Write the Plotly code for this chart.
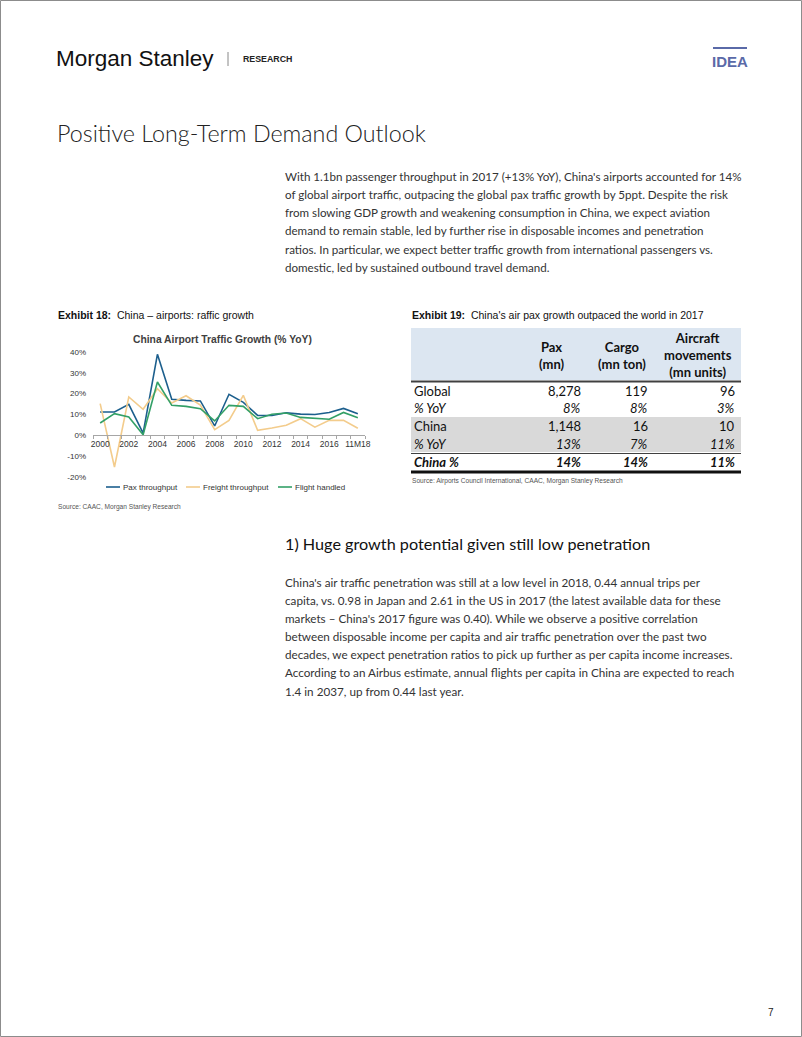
import plotly.graph_objects as go

W, H = 802, 1037
def X(px): return px / W
def Y(py): return 1 - py / H

# ---------------- chart data ----------------
years = ["2000", "2001", "2002", "2003", "2004", "2005", "2006", "2007", "2008", "2009",
         "2010", "2011", "2012", "2013", "2014", "2015", "2016", "2017", "11M18"]
pax = [11.2, 11.2, 14.9, 1.1, 38.9, 17.3, 16.8, 16.5, 4.5, 19.7,
       15.8, 9.6, 9.5, 10.8, 10.2, 10.0, 11.0, 12.9, 10.4]
freight = [15.2, -15.2, 18.4, 12.5, 22.4, 15.5, 19.0, 14.5, 2.7, 7.2,
           19.2, 2.4, 3.5, 4.8, 8.0, 3.9, 7.2, 7.2, 3.4]
flight = [5.9, 10.4, 8.8, 0.3, 25.6, 14.4, 13.9, 12.8, 6.9, 14.4,
          13.9, 8.0, 10.1, 10.7, 8.6, 8.0, 7.7, 11.0, 8.5]
series_names = ["Pax throughput", "Freight throughput", "Flight handled"]
series_colors = ["#1C5F8D", "#F3CC8C", "#33A067"]
x_ticktext = [y if i % 2 == 0 else "" for i, y in enumerate(years)]
y_ticks = [-20, -10, 0, 10, 20, 30, 40]

# ---------------- table data ----------------
col_headers = ["Pax<br>(mn)", "Cargo<br>(mn ton)", "Aircraft<br>movements<br>(mn units)"]
row_labels = ["Global", "% YoY", "China", "% YoY", "China %"]
pax_col = ["8,278", "8%", "1,148", "13%", "14%"]
cargo_col = ["119", "8%", "16", "7%", "14%"]
aircraft_col = ["96", "3%", "10", "11%", "11%"]
row_styles = ["normal", "italic", "normal", "italic", "bolditalic"]

para1 = [
    "With 1.1bn passenger throughput in 2017 (+13% YoY), China's airports accounted for 14%",
    "of global airport traffic, outpacing the global pax traffic growth by 5ppt. Despite the risk",
    "from slowing GDP growth and weakening consumption in China, we expect aviation",
    "demand to remain stable, led by further rise in disposable incomes and penetration",
    "ratios. In particular, we expect better traffic growth from international passengers vs.",
    "domestic, led by sustained outbound travel demand.",
]
para2 = [
    "China's air traffic penetration was still at a low level in 2018, 0.44 annual trips per",
    "capita, vs. 0.98 in Japan and 2.61 in the US in 2017 (the latest available data for these",
    "markets – China's 2017 figure was 0.40). While we observe a positive correlation",
    "between disposable income per capita and air traffic penetration over the past two",
    "decades, we expect penetration ratios to pick up further as per capita income increases.",
    "According to an Airbus estimate, annual flights per capita in China are expected to reach",
    "1.4 in 2037, up from 0.44 last year.",
]

ARIAL = "Liberation Sans, Arial, sans-serif"
BODY = "Lato, Noto Sans, sans-serif"

fig = go.Figure()
for name, vals, col in zip(series_names, [pax, freight, flight], series_colors):
    fig.add_trace(go.Scatter(x=years, y=vals, mode="lines", name=name,
                             line=dict(color=col, width=1.6), showlegend=False,
                             hoverinfo="skip"))

y_min, y_max = -20, 40
dom_y = [Y(477), Y(352)]
x_axis_pos = dom_y[0] + (0 - y_min) / (y_max - y_min) * (dom_y[1] - dom_y[0])

fig.update_layout(
    width=W, height=H, margin=dict(l=0, r=0, t=0, b=0, pad=0), autosize=False,
    paper_bgcolor="white", plot_bgcolor="white", showlegend=False,
    xaxis=dict(domain=[X(93), X(365)], type="category", range=[-0.5, len(years) - 0.5],
               anchor="free", position=x_axis_pos, showline=True, linecolor="#A6A6A6",
               linewidth=1, ticks="outside", ticklen=3, tickcolor="#A6A6A6",
               tickson="boundaries", tickvals=years, ticktext=x_ticktext, tickangle=0,
               showgrid=False, automargin=False,
               tickfont=dict(family=ARIAL, size=8.5, color="#333333")),
    yaxis=dict(domain=dom_y, range=[y_min, y_max], tickvals=y_ticks,
               ticktext=[f"{v}%" for v in y_ticks], showgrid=False, zeroline=False,
               showline=False, ticks="", ticklabelstandoff=6, automargin=False,
               tickfont=dict(family=ARIAL, size=8, color="#333333")),
)

shapes = []
ann = []

def text(x, y, s, size, family=BODY, color="#333333", xanchor="left", yanchor="middle",
         bold=False, italic=False, align="left", weight=None):
    w = weight if weight is not None else ("bold" if bold else "normal")
    ann.append(dict(x=X(x), y=Y(y), xref="paper", yref="paper", text=s, showarrow=False,
                    xanchor=xanchor, yanchor=yanchor, align=align,
                    font=dict(family=family, size=size, color=color, weight=w,
                              style="italic" if italic else "normal")))

# page border
shapes.append(dict(type="rect", xref="paper", yref="paper", x0=X(0.5), x1=X(801.5),
                   y0=Y(1036.5), y1=Y(0.5), line=dict(color="#8C8C8C", width=1)))

# header
text(54, 58, "Morgan Stanley", 22.5, family="Liberation Sans Narrow, Arial Narrow, " + ARIAL, color="#111111")
shapes.append(dict(type="line", xref="paper", yref="paper", x0=X(228), x1=X(228), y0=Y(52), y1=Y(66),
                   line=dict(color="#888888", width=1)))
text(241, 59, "RESEARCH", 8.8, family=ARIAL, color="#222222", bold=True)
shapes.append(dict(type="line", xref="paper", yref="paper", x0=X(713), x1=X(747), y0=Y(48), y1=Y(48),
                   line=dict(color="#5A6AA8", width=2)))
text(730, 61, "IDEA", 15, family="Liberation Sans Narrow, Arial Narrow, " + ARIAL, color="#5A6AA8",
     bold=True, xanchor="center")

# title
text(55, 133, "Positive Long-Term Demand Outlook", 23.3, color="#222222", weight=300)

# paragraph 1
for i, line in enumerate(para1):
    text(283, 176.7 + i * 18.1, line, 11.6)

# exhibit 18
text(56, 315, "<b>Exhibit 18:</b>  China – airports: raffic growth", 10.5, family=ARIAL, color="#111111")
text(222, 339, "China Airport Traffic Growth (% YoY)", 10.3, family=ARIAL, color="#404040",
     bold=True, xanchor="center")
leg_x = [106, 186, 278]
for lx, name, col in zip(leg_x, series_names, series_colors):
    shapes.append(dict(type="line", xref="paper", yref="paper", x0=X(lx), x1=X(lx + 14),
                       y0=Y(487), y1=Y(487), line=dict(color=col, width=1.6)))
    text(lx + 15, 487, name, 8, family=ARIAL)
text(56, 507, "Source: CAAC, Morgan Stanley Research", 6.6, family=ARIAL, color="#555555")

# exhibit 19 table
text(410, 315, "<b>Exhibit 19:</b>  China's air pax growth outpaced the world in 2017", 10.5,
     family=ARIAL, color="#111111")
shapes.append(dict(type="rect", xref="paper", yref="paper", x0=X(411), x1=X(741), y0=Y(380), y1=Y(328),
                   fillcolor="#DCE6F1", line=dict(width=0), layer="below"))
shapes.append(dict(type="rect", xref="paper", yref="paper", x0=X(411), x1=X(741), y0=Y(452), y1=Y(417),
                   fillcolor="#D9D9D9", line=dict(width=0), layer="below"))
shapes.append(dict(type="line", xref="paper", yref="paper", x0=X(411), x1=X(741), y0=Y(381.5), y1=Y(381.5),
                   line=dict(color="#404040", width=2)))
shapes.append(dict(type="line", xref="paper", yref="paper", x0=X(411), x1=X(741), y0=Y(453.5), y1=Y(453.5),
                   line=dict(color="#404040", width=1)))
shapes.append(dict(type="line", xref="paper", yref="paper", x0=X(411), x1=X(741), y0=Y(472), y1=Y(472),
                   line=dict(color="#111111", width=3)))

hdr_x = [552, 622, 698]
for hx, h in zip(hdr_x, col_headers):
    text(hx, 355, h, 13, color="#111111", bold=True, xanchor="center", yanchor="middle", align="center")
row_y = [391, 408, 426, 444, 462]
col_right = [583, 650, 737]
for ry, lab, style, a, b, c in zip(row_y, row_labels, row_styles, pax_col, cargo_col, aircraft_col):
    it = "italic" in style
    bd = "bold" in style
    text(412, ry, lab, 13, color="#111111", italic=it, bold=bd)
    for cx, v in zip(col_right, [a, b, c]):
        text(cx, ry, v, 13, color="#111111", italic=it, bold=bd, xanchor="right")
text(410, 481, "Source: Airports Council International, CAAC, Morgan Stanley Research", 6.6,
     family=ARIAL, color="#555555")

# section 1
text(283, 543, "1) Huge growth potential given still low penetration", 16.2, color="#111111")
for i, line in enumerate(para2):
    text(283, 581.7 + i * 18.15, line, 11.7)

text(771, 1012, "7", 10, family=ARIAL, color="#222222", xanchor="center")

fig.update_layout(shapes=shapes, annotations=ann)
fig.write_html("out.html", config={"displayModeBar": False},
               post_script="document.body.style.margin='0';document.body.style.padding='0';"
                           "document.body.style.overflow='hidden';")
